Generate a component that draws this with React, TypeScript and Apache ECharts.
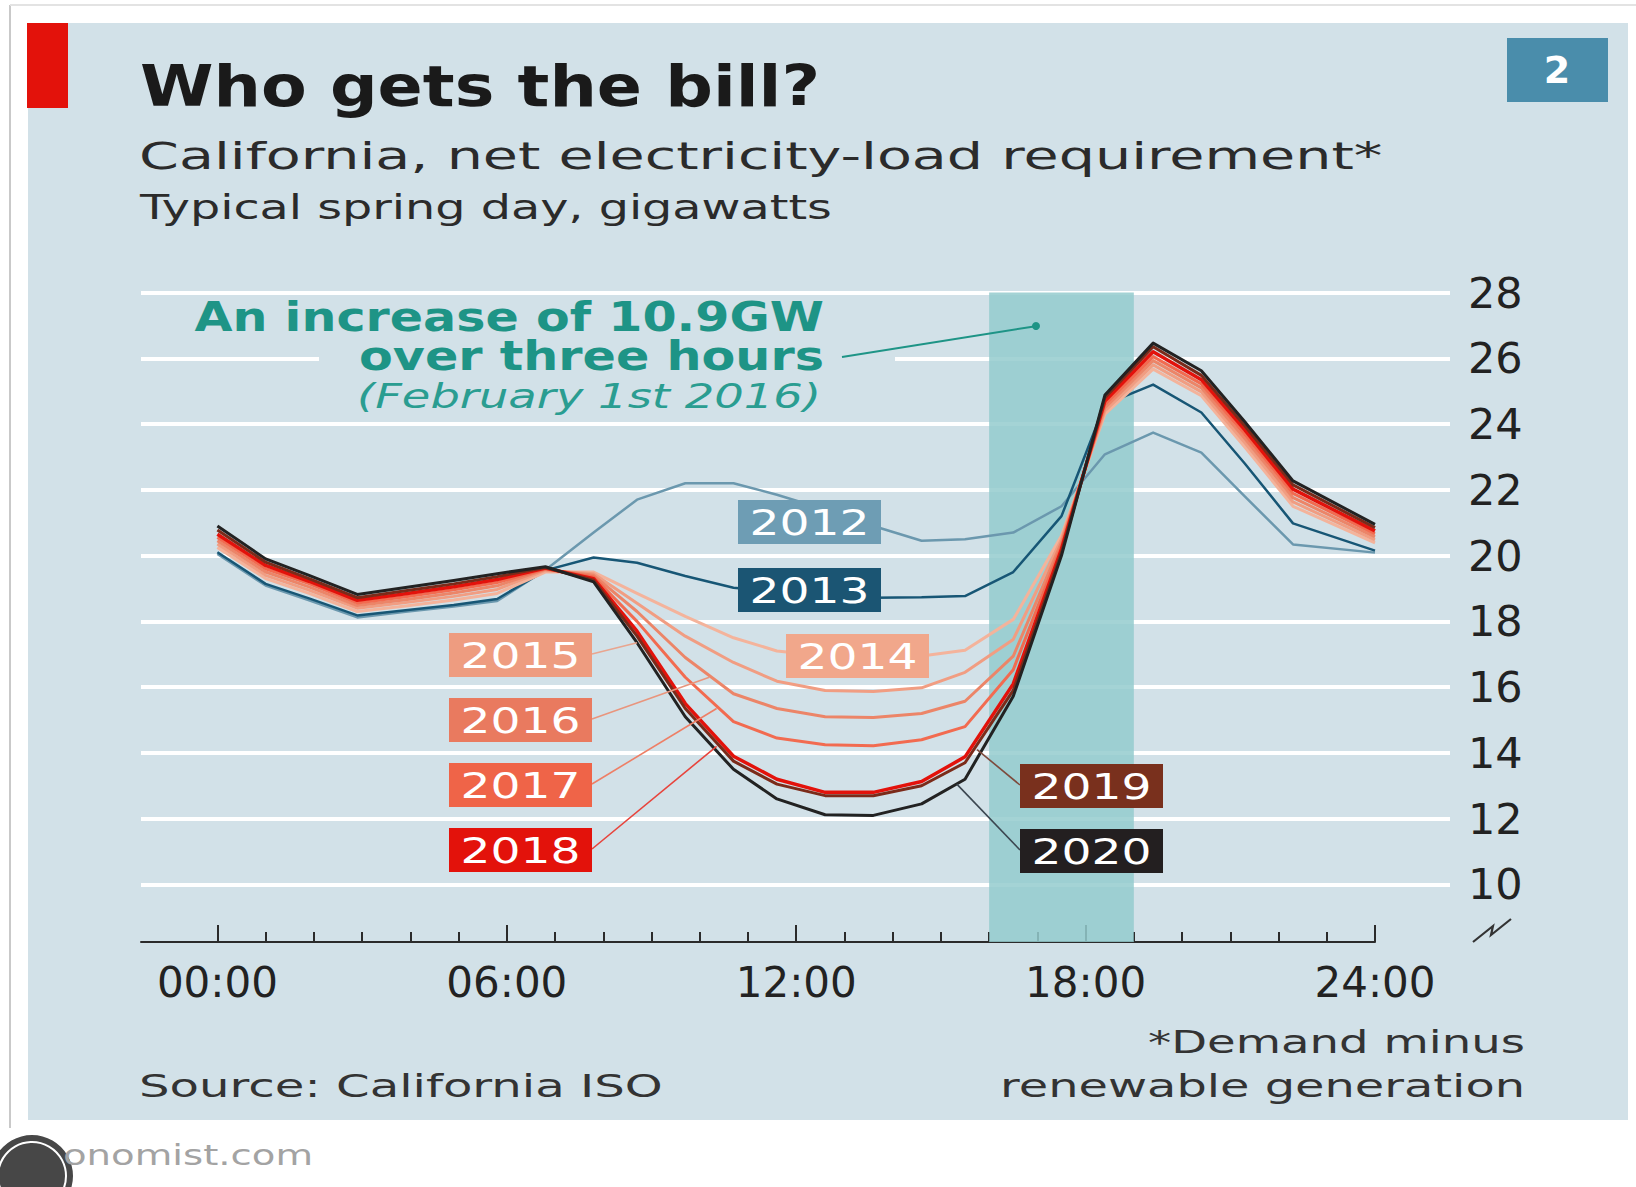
import React, { useEffect, useRef } from "react";
import * as echarts from "echarts";

const W = 1636;
const H = 1187;
const FONT = '"DejaVu Sans", sans-serif';

// ---------------- data ----------------
const hours = [0, 1, 1.9, 2.9, 3.9, 4.9, 5.8, 6.8, 7.8, 8.7, 9.7, 10.7, 11.6, 12.6, 13.6, 14.6, 15.5, 16.5, 17.5, 18.4, 19.4, 20.4, 21.3, 22.3, 24];

const years = ["2012", "2013", "2014", "2015", "2016", "2017", "2018", "2019", "2020"];

const load2012 = [20.05, 19.09, 18.64, 18.12, 18.29, 18.45, 18.62, 19.56, 20.7, 21.7, 22.2, 22.2, 21.85, 21.4, 20.9, 20.45, 20.5, 20.7, 21.5, 23.08, 23.74, 23.13, 21.8, 20.34, 20.09];
const load2013 = [20.1, 19.14, 18.7, 18.18, 18.34, 18.5, 18.68, 19.55, 19.94, 19.78, 19.38, 19.02, 18.9, 18.8, 18.72, 18.73, 18.77, 19.5, 21.2, 24.6, 25.2, 24.35, 22.8, 20.98, 20.15];
const load2014 = [20.25, 19.3, 18.85, 18.3, 18.47, 18.65, 18.85, 19.5, 19.5, 18.85, 18.15, 17.5, 17.1, 16.95, 16.93, 16.95, 17.12, 18.06, 20.6, 24.3, 25.67, 24.86, 23.3, 21.5, 20.39];
const load2015 = [20.35, 19.4, 18.95, 18.4, 18.57, 18.76, 18.97, 19.55, 19.45, 18.55, 17.55, 16.75, 16.18, 15.9, 15.87, 15.98, 16.45, 17.45, 20.5, 24.4, 25.8, 24.98, 23.43, 21.63, 20.48];
const load2016 = [20.45, 19.5, 19.05, 18.48, 18.66, 18.86, 19.08, 19.58, 19.4, 18.3, 16.9, 15.8, 15.35, 15.1, 15.08, 15.2, 15.57, 16.94, 20.4, 24.5, 25.93, 25.1, 23.56, 21.76, 20.57];
const load2017 = [20.55, 19.6, 19.15, 18.56, 18.75, 18.96, 19.18, 19.6, 19.35, 18.0, 16.3, 14.95, 14.45, 14.25, 14.22, 14.4, 14.8, 16.53, 20.3, 24.6, 26.05, 25.22, 23.69, 21.89, 20.66];
const load2018 = [20.65, 19.7, 19.22, 18.64, 18.84, 19.05, 19.27, 19.62, 19.3, 17.7, 15.5, 13.9, 13.2, 12.8, 12.8, 13.13, 13.88, 16.1, 20.2, 24.7, 26.2, 25.35, 23.82, 22.02, 20.75];
const load2019 = [20.78, 19.8, 19.3, 18.72, 18.93, 19.14, 19.36, 19.64, 19.25, 17.55, 15.35, 13.75, 13.05, 12.7, 12.7, 13.0, 13.7, 15.9, 20.1, 24.8, 26.35, 25.48, 23.95, 22.15, 20.85];
const load2020 = [20.9, 19.9, 19.4, 18.82, 19.03, 19.24, 19.45, 19.66, 19.2, 17.35, 15.1, 13.5, 12.6, 12.12, 12.1, 12.45, 13.2, 15.72, 20.0, 24.88, 26.46, 25.62, 24.07, 22.27, 20.95];

const yTickValues = [10, 12, 14, 16, 18, 20, 22, 24, 26, 28];
const xLabelHours = [0, 6, 12, 18, 24];
const xTickHours = [0, 1, 2, 3, 4, 5, 6, 7, 8, 9, 10, 11, 12, 13, 14, 15, 16, 17, 18, 19, 20, 21, 22, 23, 24];
const rampStartHour = 16;
const rampEndHour = 19;

// leader targets (hour, GW) for the labelled years
const leaderTargets: Record<string, [number, number]> = {
  "2015": [8.7, 17.35],
  "2016": [10.2, 16.3],
  "2017": [10.35, 15.35],
  "2018": [10.35, 14.2],
  "2019": [15.75, 14.1],
  "2020": [15.33, 13.05],
};

// ---------------- styles ----------------
const seriesValues = [load2012, load2013, load2014, load2015, load2016, load2017, load2018, load2019, load2020];
const lineColors = ["#6b98ae", "#175675", "#f4b39b", "#f19d82", "#ec8568", "#f26b50", "#e3120b", "#7b2b1a", "#222222"];
const lineWidths = [2.5, 2.5, 3, 3, 3, 3, 3.5, 3, 3];
const boxColors = ["#6e9db4", "#1b5573", "#f1a78b", "#ee9c80", "#e97a5f", "#ef6448", "#e3120b", "#79301d", "#231f20"];
const leaderColors: Record<string, string> = {
  "2015": "#e9a58f",
  "2016": "#e9957d",
  "2017": "#ee7f66",
  "2018": "#e8443c",
  "2019": "#7d4a3c",
  "2020": "#3b4650",
};
// label boxes: [left, top]
const boxPos: Record<string, [number, number]> = {
  "2012": [738, 500],
  "2013": [738, 568],
  "2014": [786, 634],
  "2015": [449, 633],
  "2016": [449, 698],
  "2017": [449, 763],
  "2018": [449, 828],
  "2019": [1020, 764],
  "2020": [1020, 829],
};
const BOX_W = 143;
const BOX_H = 44;

const PANEL = "#d2e1e8";
const TEAL = "#1e9486";
const X_MIN = -1.584;
const Y_MIN = 8.25;
const Y_MAX = 28;

let measureCtx: CanvasRenderingContext2D | null = null;
function measure(text: string, size: number, weight: string, style: string) {
  if (!measureCtx) measureCtx = document.createElement("canvas").getContext("2d");
  if (!measureCtx) return text.length * size * 0.6;
  measureCtx.font = `${style} ${weight} ${size}px ${FONT}`;
  return measureCtx.measureText(text).width;
}

type TOpts = { size: number; color: string; weight?: string; style?: string; align?: string; width?: number; z?: number };
function textEl(text: string, x: number, y: number, o: TOpts) {
  const weight = o.weight ?? "normal";
  const style = o.style ?? "normal";
  const sx = o.width ? o.width / measure(text, o.size, weight, style) : 1;
  return {
    type: "text",
    x,
    y,
    scaleX: sx,
    z: o.z ?? 30,
    silent: true,
    style: {
      text,
      fontSize: o.size,
      fontFamily: FONT,
      fontWeight: weight,
      fontStyle: style,
      fill: o.color,
      align: o.align ?? "left",
      verticalAlign: "middle",
    },
  };
}

function buildOption() {
  return {
    animation: false,
    backgroundColor: "#ffffff",
    grid: [
      { left: 141, right: W - 1375, top: 292.5, bottom: H - 942, containLabel: false },
      { left: 141, right: W - 1450, top: 292.5, bottom: H - 942, containLabel: false },
    ],
    xAxis: [
      {
        gridIndex: 0,
        type: "value",
        min: X_MIN,
        max: 24,
        position: "bottom",
        axisLine: { show: true, lineStyle: { color: "#2b2b2b", width: 2 } },
        axisTick: { show: true, inside: true, length: 17, customValues: xLabelHours, lineStyle: { color: "#2b2b2b", width: 2 } },
        axisLabel: {
          show: true,
          customValues: xLabelHours,
          margin: 19,
          fontSize: 42,
          fontFamily: FONT,
          color: "#222",
          formatter: (v: number) => `${String(v).padStart(2, "0")}:00`,
        },
        splitLine: { show: false },
      },
      {
        gridIndex: 0,
        type: "value",
        min: X_MIN,
        max: 24,
        position: "bottom",
        axisLine: { show: false },
        axisTick: { show: true, inside: true, length: 10, customValues: xTickHours, lineStyle: { color: "#2b2b2b", width: 2 } },
        axisLabel: { show: false },
        splitLine: { show: false },
      },
      { gridIndex: 1, type: "value", min: 0, max: 1, show: false },
    ],
    yAxis: [
      { gridIndex: 0, type: "value", min: Y_MIN, max: Y_MAX, show: false },
      {
        gridIndex: 1,
        type: "value",
        min: Y_MIN,
        max: Y_MAX,
        position: "right",
        axisLine: { show: false },
        axisTick: { show: false, customValues: yTickValues },
        axisLabel: { show: true, customValues: yTickValues, margin: 18, fontSize: 43, fontFamily: FONT, color: "#222" },
        splitLine: { show: true, lineStyle: { color: "#ffffff", width: 4 } },
      },
    ],
    series: [
      {
        type: "line",
        name: "ramp",
        xAxisIndex: 0,
        yAxisIndex: 0,
        data: [],
        silent: true,
        markArea: {
          silent: true,
          itemStyle: { color: "#94cbce", opacity: 0.85 },
          data: [[{ xAxis: rampStartHour, yAxis: Y_MIN }, { xAxis: rampEndHour, yAxis: Y_MAX }]],
        },
      },
      ...years.map((y, i) => ({
        type: "line",
        name: y,
        xAxisIndex: 0,
        yAxisIndex: 0,
        data: hours.map((h, k) => [h, seriesValues[i][k]]),
        symbol: "none",
        showSymbol: false,
        silent: true,
        z: 3,
        lineStyle: { color: lineColors[i], width: lineWidths[i], join: "round" },
        itemStyle: { color: lineColors[i] },
      })),
    ],
  };
}

function buildGraphics(chart: echarts.ECharts) {
  const els: any[] = [];
  // frame and panel
  els.push({ type: "rect", silent: true, z: -20, shape: { x: 28, y: 23, width: 1600, height: 1097 }, style: { fill: PANEL } });
  els.push({ type: "line", silent: true, z: -19, shape: { x1: 10, y1: 5, x2: 10, y2: 1128 }, style: { stroke: "#c9c9c9", lineWidth: 2 } });
  els.push({ type: "line", silent: true, z: -19, shape: { x1: 10, y1: 5, x2: 1636, y2: 5 }, style: { stroke: "#e3e3e3", lineWidth: 2 } });
  els.push({ type: "rect", silent: true, z: -5, shape: { x: 27, y: 23, width: 41, height: 85 }, style: { fill: "#e3120b" } });
  els.push({ type: "rect", silent: true, z: -5, shape: { x: 1507, y: 38, width: 101, height: 64 }, style: { fill: "#4a8dab" } });
  els.push(textEl("2", 1557, 70, { size: 38, weight: "bold", color: "#ffffff", align: "center" }));

  // titles
  els.push(textEl("Who gets the bill?", 140, 87, { size: 56, weight: "bold", color: "#1a1a1a", width: 680 }));
  els.push(textEl("California, net electricity-load requirement*", 139, 156, { size: 38, color: "#2b2b2b", width: 1244 }));
  els.push(textEl("Typical spring day, gigawatts", 140, 208, { size: 34, color: "#2b2b2b", width: 692 }));

  // annotation
  els.push({ type: "rect", silent: true, z: 5, shape: { x: 319, y: 354, width: 576, height: 10 }, style: { fill: PANEL } });
  els.push(textEl("An increase of 10.9GW", 824, 317.5, { size: 40, weight: "bold", color: TEAL, align: "right", width: 630 }));
  els.push(textEl("over three hours", 824, 356, { size: 40, weight: "bold", color: TEAL, align: "right", width: 465 }));
  els.push(textEl("(February 1st 2016)", 821, 397, { size: 33, style: "italic", color: "#2a9d91", align: "right", width: 464 }));
  els.push({ type: "line", silent: true, z: 20, shape: { x1: 842, y1: 357, x2: 1034, y2: 326.5 }, style: { stroke: TEAL, lineWidth: 2 } });
  els.push({ type: "circle", silent: true, z: 20, shape: { cx: 1036, cy: 326, r: 4 }, style: { fill: TEAL } });

  // leader lines
  Object.keys(leaderTargets).forEach((y) => {
    const [bx, by] = boxPos[y];
    const fromLeft = bx > 900;
    const sx = fromLeft ? bx : bx + BOX_W;
    const sy = by + BOX_H / 2 - 1;
    const p = chart.convertToPixel({ seriesIndex: 1 }, leaderTargets[y]) as number[];
    els.push({ type: "line", silent: true, z: 15, shape: { x1: sx, y1: sy, x2: p[0], y2: p[1] }, style: { stroke: leaderColors[y], lineWidth: 1.6 } });
  });

  // year boxes
  years.forEach((y, i) => {
    const [bx, by] = boxPos[y];
    els.push({ type: "rect", silent: true, z: 25, shape: { x: bx, y: by, width: BOX_W, height: BOX_H }, style: { fill: boxColors[i] } });
    els.push(textEl(y, bx + BOX_W / 2, by + BOX_H / 2 + 1, { size: 36, color: "#ffffff", align: "center", width: 120 }));
  });

  // axis break mark
  els.push({
    type: "polyline",
    silent: true,
    z: 20,
    shape: { points: [[1473, 942], [1493, 926], [1491, 935], [1511, 919]] },
    style: { stroke: "#333", lineWidth: 2.2, fill: "none" },
  });

  // footer
  els.push(textEl("Source: California ISO", 139, 1086, { size: 32, color: "#333", width: 524 }));
  els.push(textEl("*Demand minus", 1525, 1042, { size: 32, color: "#333", align: "right", width: 377 }));
  els.push(textEl("renewable generation", 1525, 1086, { size: 32, color: "#333", align: "right", width: 525 }));
  els.push(textEl("onomist.com", 63, 1155, { size: 28, color: "#a3a3a3", width: 250 }));
  els.push({ type: "circle", silent: true, z: 10, shape: { cx: 32, cy: 1176, r: 41 }, style: { fill: "#474747" } });
  els.push({ type: "circle", silent: true, z: 11, shape: { cx: 32, cy: 1176, r: 34 }, style: { fill: "none", stroke: "#ffffff", lineWidth: 2 } });
  return els;
}

export default function App() {
  const ref = useRef<HTMLDivElement>(null);
  useEffect(() => {
    if (!ref.current) return;
    const chart = echarts.init(ref.current, null, { renderer: "svg" });
    chart.setOption(buildOption() as any);
    chart.setOption({ graphic: { elements: buildGraphics(chart) } } as any);
    return () => chart.dispose();
  }, []);
  return <div ref={ref} style={{ position: "absolute", left: 0, top: 0, width: W, height: H }} />;
}
